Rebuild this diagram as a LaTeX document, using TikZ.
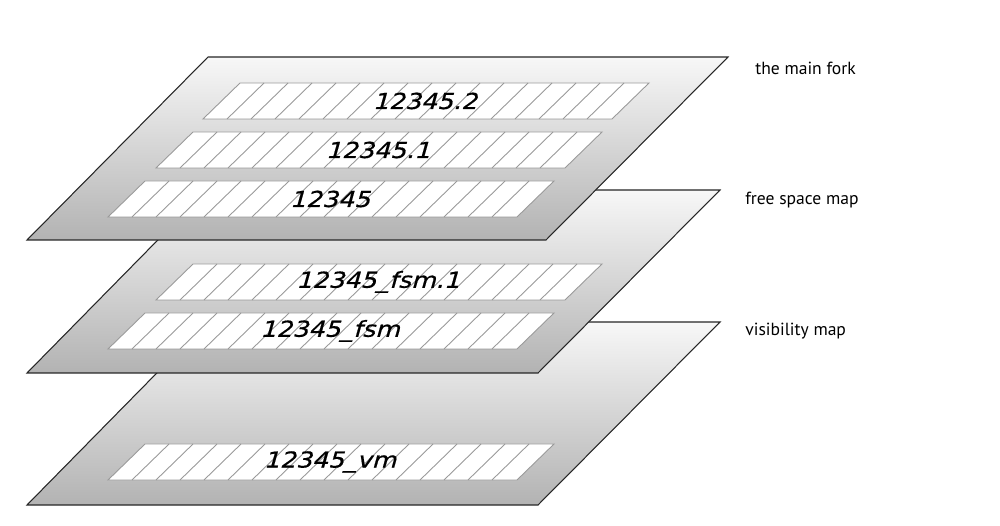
\documentclass[tikz,border=0pt]{standalone}
\usepackage{fontspec}
\setmainfont{PT Sans}
\newfontfamily\stripfont[FakeSlant=0.28, FakeStretch=1.15, FakeBold=0.6]{DejaVu Sans}
\usetikzlibrary{calc}
\tikzset{
	plane/.style={draw=black!85, line width=0.6pt, top color=black!3, bottom color=black!30},
	stripline/.style={draw=black!40, line width=0.5pt},
	striptext/.style={font=\stripfont\fontsize{12.5}{14}\selectfont, inner sep=0pt},
	layerlabel/.style={font=\fontsize{10}{12}\selectfont, anchor=west, inner sep=0pt}
}
\def\plane(#1,#2)(#3){\shade[plane] (#1,#2) -- (#3,#2) -- ($(#3,#2)+(-182,183)$) -- (27,#2+183) -- cycle;}
\def\hatchstrip(#1,#2)#3#4{%
	\draw[stripline, fill=white] (#1,#2) -- ++(409,0) -- ++(37,-36) -- ++(-409,0) -- cycle;
	\foreach \k in {1,...,16} \draw[stripline] (#1+24*\k,#2) -- ++(37,-36);
	\node[striptext] (#3) at (#1+222,#2-18) {#4};
}

\begin{document}
\begin{tikzpicture}[x=0.02cm, y=-0.02cm]
			%%%%% START %%%%%
			
			\useasboundingbox (0, 0) rectangle (1000, 526);
			
			\plane(207, 322)(720);
			\hatchstrip(108, 480){vm0}{12345\_vm}
			
			\plane(207, 190)(720);
			\hatchstrip(156, 300){fsm1}{12345\_fsm.1}
			\hatchstrip(108, 349){fsm0}{12345\_fsm}
			
			\plane(208, 57)(728);
			\hatchstrip(203, 119){main2}{12345.2}
			\hatchstrip(156, 168){main1}{12345.1}
			\hatchstrip(108, 217){main0}{12345}
			
			\node[layerlabel] (lblmain) at (755, 68) {the main fork};
			\node[layerlabel] (lblfsm) at (745, 200) {free space map};
			\node[layerlabel] (lblvm) at (745, 331) {visibility map};
			
			%%%%% END %%%%%
		\end{tikzpicture}
\end{document}
